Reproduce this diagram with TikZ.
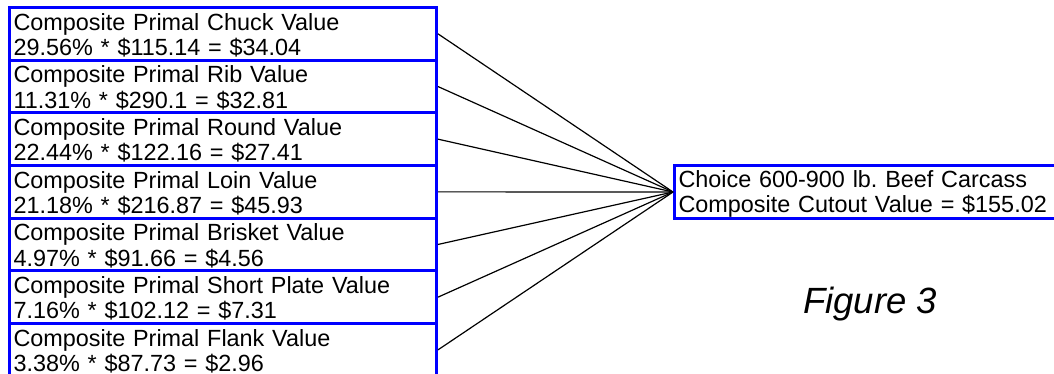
\documentclass[tikz,border=0pt]{standalone}
\usepackage{fontspec}
\setmainfont{Liberation Sans}
\frenchspacing
\begin{document}
\begin{tikzpicture}[x=1pt,y=-1pt,
  primal/.style={draw=blue, line width=3pt, rectangle, anchor=north west,
    inner xsep=4pt, inner ysep=0pt, text width=419pt, align=left,
    text height=22.5pt, text depth=30.2pt,
    font=\fontsize{23.4}{25.5}\selectfont\frenchspacing},
  total/.style={draw=blue, line width=3pt, rectangle, anchor=north west,
    inner xsep=4pt, inner ysep=0pt, text width=440pt, align=left,
    text height=22pt, text depth=31pt,
    font=\fontsize{23.4}{25}\selectfont\frenchspacing},
  conn/.style={draw=black, line width=1.2pt},
  caption/.style={anchor=base west, inner sep=0pt,
    font=\fontsize{36.5}{40}\selectfont\itshape}]
\useasboundingbox (0,0) rectangle (1054,373);
\clip (0,0) rectangle (1054,373);
\node[primal] (b1) at (8,6) {Composite Primal Chuck Value\\29.56\% * \$115.14 = \$34.04};
\node[primal] (b2) at (8,58.7) {Composite Primal Rib Value\\11.31\% * \$290.1 = \$32.81};
\node[primal] (b3) at (8,111.3) {Composite Primal Round Value\\22.44\% * \$122.16 = \$27.41};
\node[primal] (b4) at (8,164) {Composite Primal Loin Value\\21.18\% * \$216.87 = \$45.93};
\node[primal] (b5) at (8,216.6) {Composite Primal Brisket Value\\4.97\% * \$91.66 = \$4.56};
\node[primal] (b6) at (8,269.3) {Composite Primal Short Plate Value\\7.16\% * \$102.12 = \$7.31};
\node[primal] (b7) at (8,322) {Composite Primal Flank Value\\3.38\% * \$87.73 = \$2.96};
\node[total] (c) at (673,164) {Choice 600-900 lb. Beef Carcass\\Composite Cutout Value = \$155.02};
\foreach \i in {1,...,7} {\draw[conn] (b\i.east) -- (c.west);}
\node[caption] (fig) at (803,313) {Figure 3};
\end{tikzpicture}
\end{document}
